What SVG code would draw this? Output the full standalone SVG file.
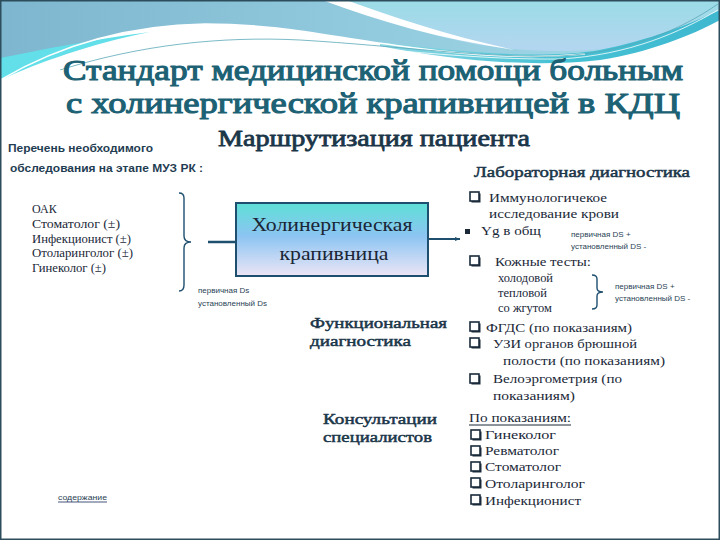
<svg xmlns="http://www.w3.org/2000/svg" width="720" height="540" viewBox="0 0 720 540">
<defs>
<linearGradient id="gTop" x1="0" y1="0" x2="1" y2="0">
<stop offset="0" stop-color="#7db6ce"/>
<stop offset="0.45" stop-color="#8fc8dc"/>
<stop offset="1" stop-color="#a6dcea"/>
</linearGradient>
<linearGradient id="gRight" x1="0" y1="0" x2="0" y2="1">
<stop offset="0" stop-color="#9adbe6"/>
<stop offset="1" stop-color="#b4d6f0"/>
</linearGradient>
<linearGradient id="gTeal" x1="0" y1="0" x2="1" y2="0">
<stop offset="0" stop-color="#8fd8e4"/>
<stop offset="0.5" stop-color="#46c2d4"/>
<stop offset="1" stop-color="#3fb8d0"/>
</linearGradient>
<linearGradient id="gBox" x1="0" y1="0" x2="0" y2="1">
<stop offset="0" stop-color="#5ee0d6"/>
<stop offset="0.45" stop-color="#8cc4f2"/>
<stop offset="1" stop-color="#ece6f6"/>
</linearGradient>
<marker id="arr" markerWidth="6" markerHeight="6" refX="5" refY="3" orient="auto" markerUnits="userSpaceOnUse">
<path d="M0,1 L5,3 L0,5 Z" fill="#1f4f6f"/>
</marker>
<g id="cb">
<rect x="1.5" y="1.5" width="9" height="9" fill="#1a2a3a"/>
<rect x="0" y="0" width="9" height="9" fill="#ffffff" stroke="#1a2a3a" stroke-width="1.6"/>
</g>
</defs>
<style>
.title{font-family:"Liberation Serif","DejaVu Serif",serif;font-weight:normal;font-size:30px;fill:#1c6174;stroke:#1c6174;stroke-width:1.1;stroke-linejoin:round}
.h2{font-family:"Liberation Serif","DejaVu Serif",serif;font-weight:normal;font-size:23px;fill:#1b3649;stroke:#1b3649;stroke-width:0.8;stroke-linejoin:round}
.h3{font-family:"Liberation Serif","DejaVu Serif",serif;font-weight:normal;font-size:15px;fill:#1b3649;stroke:#1b3649;stroke-width:0.5;stroke-linejoin:round}
.lbl{font-family:"Liberation Sans","DejaVu Sans",sans-serif;font-weight:bold;font-size:10.5px;fill:#1f3d52}
.body{font-family:"Liberation Serif","DejaVu Serif",serif;font-size:13px;fill:#1a2838}
.sm{font-family:"Liberation Serif","DejaVu Serif",serif;font-size:12px;fill:#1a2838}
.tiny{font-family:"Liberation Sans","DejaVu Sans",sans-serif;font-size:8px;fill:#2a3f55}
.boxt{font-family:"Liberation Serif","DejaVu Serif",serif;font-size:19px;fill:#1a2636}
.line{fill:none;stroke:#1f4f6f;stroke-width:1.4}
</style>
<rect x="0" y="0" width="720" height="540" fill="#ffffff"/>
<g id="background">
<path d="M0,0 H720 V14 C680,34 640,48 585,54 C520,60 460,54 400,46 C330,37 280,24 205,24 C130,25 60,45 0,80 Z" fill="url(#gTop)"/>
<path d="M340,0 H720 V14 C680,34 640,46 590,50 C520,54 460,44 420,30 C390,18 365,8 340,0 Z" fill="url(#gRight)"/>
<path d="M322,0 H346 C395,18 450,36 515,50 C445,40 380,22 322,0 Z" fill="#ffffff"/>
<path d="M380,42 C460,52 540,60 600,50 C650,40 690,24 720,10 V20 C690,36 650,52 600,60 C530,68 450,60 380,46 Z" fill="url(#gTeal)"/>
<path d="M0,58 C40,50 90,40 150,32 C90,44 40,62 0,80 Z" fill="#62dfe8"/>
<path d="M0,80 C60,45 130,25 205,24 C280,24 330,37 400,46 C460,54 520,60 585,54" fill="none" stroke="#ffffff" stroke-width="1.5"/>
<path d="M60,70 C140,45 220,36 300,40 C400,46 480,58 560,56 C630,52 680,30 718,4" fill="none" stroke="#5aa8b8" stroke-width="0.8"/>
<path d="M50,74 C140,48 220,40 300,43 C400,50 480,60 560,59 C630,55 680,32 718,10" fill="none" stroke="#ffffff" stroke-width="0.8"/>
<rect x="0.75" y="0.75" width="718.5" height="538.5" fill="none" stroke="#2d4d5d" stroke-width="1.5"/>
</g>
<g id="title">
<text class="title" x="63" y="80" textLength="620" lengthAdjust="spacingAndGlyphs">Стандарт медицинской помощи больным</text>
<text class="title" x="66" y="113" textLength="614" lengthAdjust="spacingAndGlyphs">с холинергической крапивницей  в  КДЦ</text>
<text class="h2" x="218" y="146" textLength="312" lengthAdjust="spacingAndGlyphs">Маршрутизация пациента</text>
</g>
<g id="connectors">
<path class="line" d="M179,193 Q184,193 184,198 V236 Q184,242 191,242 Q184,242 184,248 V285 Q184,291 179,291"/>
<line x1="208" y1="242" x2="236" y2="242" stroke="#1f4f6f" stroke-width="2.5"/>
<line x1="428" y1="239" x2="460" y2="239" stroke="#1f4f6f" stroke-width="2" marker-end="url(#arr)"/>
<path class="line" d="M592,275 Q597,275 597,279 V288 Q597,292 603,292 Q597,292 597,296 V305 Q597,309 592,309"/>
</g>
<g id="exam-list">
<text class="lbl" x="8" y="152" textLength="145" lengthAdjust="spacingAndGlyphs">Перечень необходимого</text>
<text class="lbl" x="10" y="172" textLength="193" lengthAdjust="spacingAndGlyphs">обследования на этапе МУЗ РК :</text>
<text class="sm" x="32" y="213">ОАК</text>
<text class="sm" x="32" y="228" textLength="88" lengthAdjust="spacingAndGlyphs">Стоматолог (±)</text>
<text class="sm" x="32" y="243" textLength="99" lengthAdjust="spacingAndGlyphs">Инфекционист (±)</text>
<text class="sm" x="32" y="257" textLength="101" lengthAdjust="spacingAndGlyphs">Отоларинголог (±)</text>
<text class="sm" x="32" y="272" textLength="74" lengthAdjust="spacingAndGlyphs">Гинеколог (±)</text>
</g>
<g id="node-main">
<rect x="236" y="203" width="192" height="73" fill="url(#gBox)" stroke="#1f4f6f" stroke-width="2"/>
<text class="boxt" x="332" y="231" text-anchor="middle" textLength="161" lengthAdjust="spacingAndGlyphs">Холинергическая</text>
<text class="boxt" x="334" y="260" text-anchor="middle" textLength="109" lengthAdjust="spacingAndGlyphs">крапивница</text>
</g>
<g id="ds-note">
<text class="tiny" x="198" y="293">первичная Ds</text>
<text class="tiny" x="198" y="306">установленный Ds</text>
</g>
<g id="node-func">
<text class="h3" x="310" y="328" textLength="137" lengthAdjust="spacingAndGlyphs">Функциональная</text>
<text class="h3" x="310" y="346" textLength="101" lengthAdjust="spacingAndGlyphs">диагностика</text>
</g>
<g id="node-consult">
<text class="h3" x="323" y="424" textLength="114" lengthAdjust="spacingAndGlyphs">Консультации</text>
<text class="h3" x="323" y="442" textLength="109" lengthAdjust="spacingAndGlyphs">специалистов</text>
</g>
<g id="lab">
<text class="h3" x="474" y="177" textLength="216" lengthAdjust="spacingAndGlyphs">Лабораторная диагностика</text>
<use href="#cb" x="470" y="192"/>
<text class="body" x="489" y="202" textLength="118" lengthAdjust="spacingAndGlyphs">Иммунологичекое</text>
<text class="body" x="489" y="218" textLength="130" lengthAdjust="spacingAndGlyphs">исследование крови</text>
<rect x="465" y="229" width="5" height="5" fill="#1a2838"/>
<text class="body" x="481" y="235" textLength="60" lengthAdjust="spacingAndGlyphs">Yg  в общ</text>
<text class="tiny" x="571" y="237">первичная DS +</text>
<text class="tiny" x="571" y="249">установленный DS -</text>
<use href="#cb" x="470" y="256"/>
<text class="body" x="495" y="266" textLength="96" lengthAdjust="spacingAndGlyphs">Кожные тесты:</text>
<text class="sm" x="498" y="282" textLength="55" lengthAdjust="spacingAndGlyphs">холодовой</text>
<text class="sm" x="498" y="297" textLength="49" lengthAdjust="spacingAndGlyphs">тепловой</text>
<text class="sm" x="498" y="312" textLength="54" lengthAdjust="spacingAndGlyphs">со жгутом</text>
<text class="tiny" x="615" y="289">первичная DS +</text>
<text class="tiny" x="615" y="301">установленный DS -</text>
</g>
<g id="func-list">
<use href="#cb" x="470" y="322"/>
<text class="body" x="486" y="332" textLength="146" lengthAdjust="spacingAndGlyphs">ФГДС  (по показаниям)</text>
<use href="#cb" x="470" y="338"/>
<text class="body" x="493" y="348" textLength="144" lengthAdjust="spacingAndGlyphs">УЗИ органов брюшной</text>
<text class="body" x="503" y="365" textLength="162" lengthAdjust="spacingAndGlyphs">полости (по показаниям)</text>
<use href="#cb" x="470" y="374"/>
<text class="body" x="493" y="383" textLength="129" lengthAdjust="spacingAndGlyphs">Велоэргометрия (по</text>
<text class="body" x="493" y="400" textLength="82" lengthAdjust="spacingAndGlyphs">показаниям)</text>
</g>
<g id="consult-list">
<text class="body" x="469" y="422" textLength="102" lengthAdjust="spacingAndGlyphs">По показаниям:</text>
<line x1="469" y1="425" x2="571" y2="425" stroke="#1a2838" stroke-width="1"/>
<use href="#cb" x="471" y="430"/>
<text class="body" x="485" y="439" textLength="71" lengthAdjust="spacingAndGlyphs">Гинеколог</text>
<use href="#cb" x="471" y="446"/>
<text class="body" x="485" y="455" textLength="74" lengthAdjust="spacingAndGlyphs">Ревматолог</text>
<use href="#cb" x="471" y="462"/>
<text class="body" x="485" y="471" textLength="76" lengthAdjust="spacingAndGlyphs">Стоматолог</text>
<use href="#cb" x="471" y="478"/>
<text class="body" x="485" y="488" textLength="100" lengthAdjust="spacingAndGlyphs">Отоларинголог</text>
<use href="#cb" x="471" y="495"/>
<text class="body" x="485" y="505" textLength="96" lengthAdjust="spacingAndGlyphs">Инфекционист</text>
</g>
<g id="link">
<text class="tiny" x="58" y="500" textLength="49" lengthAdjust="spacingAndGlyphs" fill="#1a2a5a">содержание</text>
<line x1="58" y1="502" x2="107" y2="502" stroke="#1a2a5a" stroke-width="0.8"/>
</g>
</svg>
